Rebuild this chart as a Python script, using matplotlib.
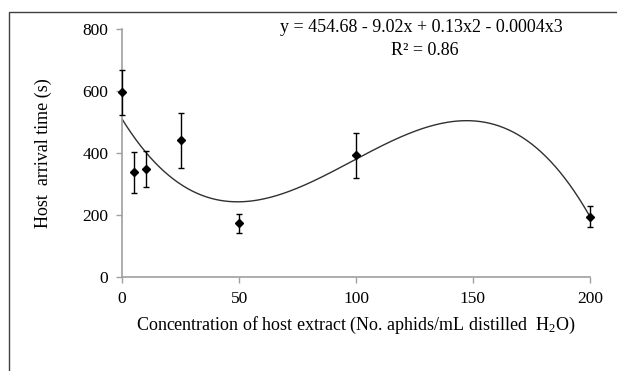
import matplotlib
matplotlib.use("Agg")
import matplotlib.pyplot as plt
import numpy as np
from matplotlib.patches import Rectangle

# data
conc = [0, 5, 10, 25, 50, 100, 200]
arrival = [596, 337, 347, 440, 172, 392, 194]
err = [73, 67, 58, 89, 31, 72, 33]

xticks = [0, 50, 100, 150, 200]
yticks = [0, 200, 400, 600, 800]

plt.rcParams['font.family'] = ['Liberation Serif']
plt.rcParams['mathtext.fontset'] = 'custom'
plt.rcParams['mathtext.rm'] = 'Liberation Serif'
plt.rcParams['mathtext.it'] = 'Liberation Serif:italic'

fig = plt.figure(figsize=(6.17, 3.71), dpi=100)
ax = fig.add_axes([0.198, 0.254, 0.758, 0.668])

# cubic trend line through the points
coef = np.polyfit(conc, arrival, 3)
xs = np.linspace(0, 200, 300)
ax.plot(xs, np.polyval(coef, xs), color='#303030', lw=1.0)

ax.errorbar(conc, arrival, yerr=err, fmt='D', color='black', ms=4.5,
            ecolor='black', elinewidth=1.0, capsize=2.5, capthick=1.0,
            clip_on=False, zorder=3)

ax.set_xlim(0, 200)
ax.set_ylim(0, 800)
ax.set_xticks(xticks)
ax.set_yticks(yticks)
for s in ['top', 'right']:
    ax.spines[s].set_visible(False)
for s in ['left', 'bottom']:
    ax.spines[s].set_color('#a0a0a0')
    ax.spines[s].set_linewidth(1.2)
ax.tick_params(colors='#a0a0a0', labelcolor='black', length=4, width=1.0,
               labelsize=12.5, direction='out')
ax.tick_params(axis='x', pad=6)
ax.tick_params(axis='y', pad=6)

ax.set_xlabel('Concentration of host extract (No. aphids/mL distilled  H$_2$O)',
              fontsize=13)
ax.xaxis.set_label_coords(0.5, -0.195)
ax.xaxis.label.set_va('center')
ax.set_ylabel('Host  arrival time (s)', fontsize=13)
ax.yaxis.set_label_coords(-0.169, 0.5)
ax.yaxis.label.set_va('center')

ax.text(0.639, 1.004, 'y = 454.68 - 9.02x + 0.13x2 - 0.0004x3', transform=ax.transAxes,
        ha='center', va='center', fontsize=13)
ax.text(0.647, 0.915, 'R² = 0.86', transform=ax.transAxes,
        ha='center', va='center', fontsize=13)

# chart-area frame (cut off at right and bottom in the reference)
fig.patches.append(Rectangle((9 / 617, -0.05), 1.2, (371 - 12) / 371 + 0.05,
                             transform=fig.transFigure, fill=False,
                             edgecolor='#404040', lw=1.0))

fig.savefig('out.png', dpi=100)
